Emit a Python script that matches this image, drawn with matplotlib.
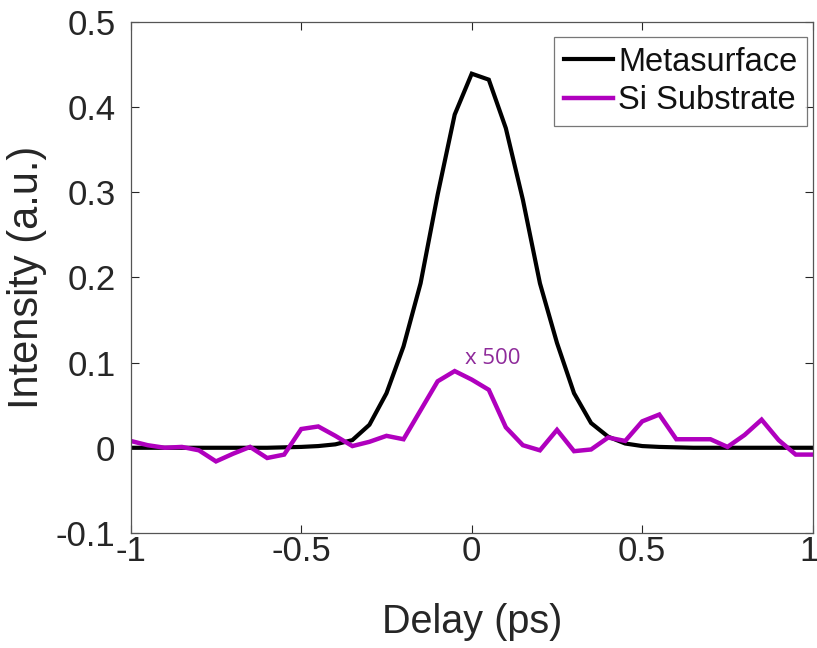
import numpy as np
import matplotlib
matplotlib.use("Agg")
import matplotlib.pyplot as plt
import matplotlib.transforms as mtransforms

# Delay axis (ps), sampled every 0.05 ps
delay = np.round(np.arange(-1.0, 1.0001, 0.05), 2)

# Metasurface signal
metasurface = [0.0, 0.0, 0.0, 0.0, 0.0, 0.0, 0.0, 0.0, 0.0, 0.0005,
               0.001, 0.002, 0.004, 0.009, 0.027, 0.064, 0.119, 0.193, 0.297, 0.391,
               0.439, 0.432, 0.375, 0.291, 0.193, 0.123, 0.064, 0.029, 0.013, 0.005,
               0.002, 0.001, 0.0005, 0.0, 0.0, 0.0, 0.0, 0.0, 0.0, 0.0,
               0.0]

# Si substrate signal (scaled x 500)
si_substrate = [0.008, 0.003, 0.0, 0.001, -0.003, -0.016, -0.007, 0.001, -0.012, -0.008,
                0.022, 0.025, 0.014, 0.002, 0.007, 0.014, 0.010, 0.044, 0.078, 0.090,
                0.080, 0.068, 0.024, 0.003, -0.003, 0.021, -0.004, -0.002, 0.012, 0.008,
                0.031, 0.039, 0.010, 0.010, 0.010, 0.001, 0.015, 0.033, 0.009, -0.008,
                -0.008]

x_ticks = [-1, -0.5, 0, 0.5, 1]
x_tick_labels = ["-1", "-0.5", "0", "0.5", "1"]
y_ticks = [-0.1, 0, 0.1, 0.2, 0.3, 0.4, 0.5]
y_tick_labels = ["-0.1", "0", "0.1", "0.2", "0.3", "0.4", "0.5"]

plt.rcParams["font.family"] = ["Liberation Sans", "DejaVu Sans"]

fig = plt.figure(figsize=(8.17, 6.48), dpi=100)
ax = fig.add_axes([0.16, 0.1775, 0.8348, 0.789])

ax.plot(delay, metasurface, color="black", lw=3.0, label="Metasurface",
        solid_joinstyle="miter")
ax.plot(delay, si_substrate, color="#B000BE", lw=3.2, label="Si Substrate",
        solid_joinstyle="miter")

ax.text(0.062, 0.105, "x 500", color="#8E2A9A", fontsize=16,
        family=["Open Sans", "DejaVu Sans"], ha="center", va="center")

ax.set_xlim(-1, 1)
ax.set_ylim(-0.1, 0.5)
ax.set_xticks(x_ticks)
ax.set_xticklabels(x_tick_labels)
ax.set_yticks(y_ticks)
ax.set_yticklabels(y_tick_labels)

ax.tick_params(direction="in", length=6, width=0.8, color="#262626",
               labelsize=25, labelcolor="#262626", top=True, right=True)
ax.tick_params(axis="x", pad=1.5)
ax.tick_params(axis="y", pad=11)
for s in ax.spines.values():
    s.set_color("#555555")
    s.set_linewidth(0.9)

# keep the last x tick label inside the figure edge
last = ax.get_xticklabels()[-1]
last.set_transform(last.get_transform() +
                   mtransforms.ScaledTranslation(-4 / 100, 0, fig.dpi_scale_trans))

ax.set_xlabel("Delay (ps)", fontsize=28.5, color="#262626", labelpad=25)
ax.set_ylabel("Intensity (a.u.)", fontsize=30, color="#262626", labelpad=6)

leg = ax.legend(loc="upper right", bbox_to_anchor=(0.9916, 0.970),
                borderaxespad=0.0, fontsize=23.5, frameon=True, fancybox=False,
                handlelength=1.5, handletextpad=0.15, borderpad=0.3,
                labelspacing=0.22)
leg.get_frame().set_edgecolor("#555555")
leg.get_frame().set_linewidth(0.9)
for t in leg.get_texts():
    t.set_color("#111111")

fig.savefig("out.png", dpi=100, facecolor="white")
